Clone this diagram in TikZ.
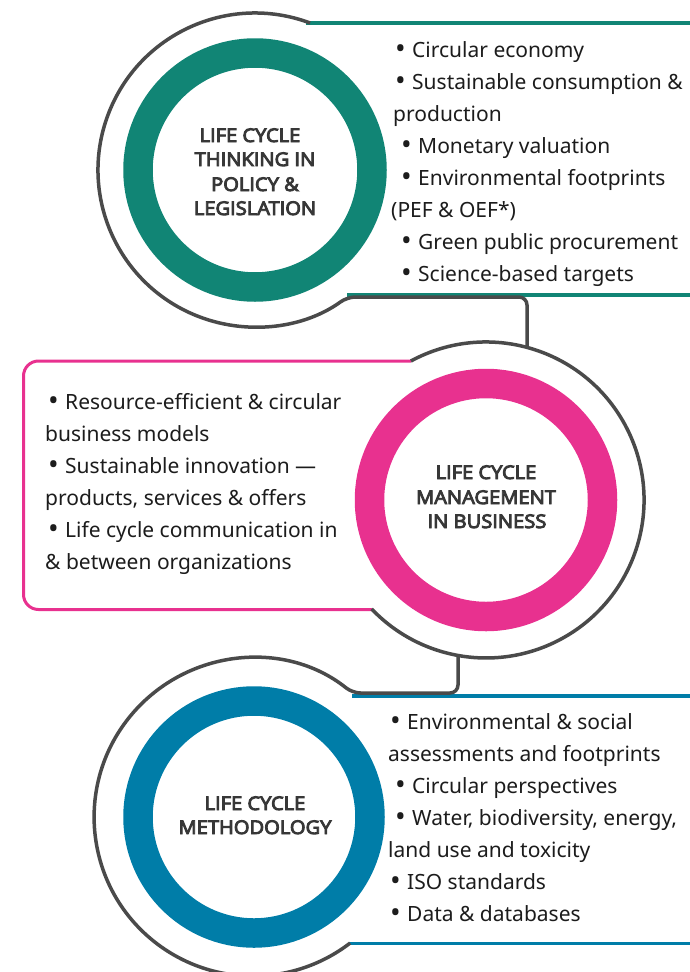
\documentclass[tikz,border=0pt]{standalone}
\usepackage{fontspec}
\setmainfont{Noto Sans}
\newfontfamily\labelfont{Open Sans}[FakeBold=5, FakeStretch=1.07]
\definecolor{tealc}{RGB}{17,133,117}
\definecolor{pinkc}{RGB}{232,49,143}
\definecolor{bluec}{RGB}{0,125,168}
\definecolor{framegray}{RGB}{74,74,74}
\definecolor{textdark}{RGB}{28,28,28}
\definecolor{labelgray}{RGB}{55,55,55}
\newcommand\bitem[1]{\makebox[16pt][l]{\hspace{-1pt}\raisebox{-1.8pt}{\scalebox{1.35}{•}}}#1}
\begin{document}
\begin{tikzpicture}[x=1pt,y=-1pt,
  frame/.style={draw=framegray, line width=3.5pt, rounded corners=8pt},
  rule/.style={line width=3.3pt},
  ring/.style={line width=29.5pt},
  body/.style={font=\fontsize{21}{32}\selectfont, text=textdark, inner sep=0pt, anchor=base west},
  label/.style={font=\labelfont\fontsize{18.8}{24.5}\selectfont, text=labelgray, inner sep=0pt, anchor=base}]
\useasboundingbox (0,0) rectangle (690,972);
\clip (0,0) rectangle (690,972);

% centres
\coordinate (ctop) at (255,170);
\coordinate (cmid) at (486,500);
\coordinate (cbot) at (254,817);

% ---------- top section ----------
\draw[tealc, rule] (306,23) -- (690,23);
\draw[tealc, rule] (347,295) -- (690,295);
\draw[frame] (310.1,23) arc[start angle=-69.45, end angle=-306.0, radius=157]
  -- (527,297) -- (527,347.4);
\draw[tealc, ring] (ctop) circle[radius=117];

% ---------- middle section ----------
\draw[pinkc, line width=3pt, rounded corners=15pt] (411,361) -- (23.5,361) -- (23.5,609.5) -- (372,609.5);
\draw[frame] (410.9,361) arc[start angle=-118.4, end angle=136.4, radius=158];
\draw[pinkc, ring] (cmid) circle[radius=116.5];

% ---------- bottom section ----------
\draw[bluec, rule] (352,696) -- (690,696);
\draw[bluec, rule] (349,943.5) -- (690,943.5);
\draw[frame] (458,655.5) -- (458,693) -- (352.5,693)
  arc[start angle=-51.3, end angle=-307.6, radius=159];
\draw[bluec, ring] (cbot) circle[radius=116];

% ---------- circle labels ----------
\node[label] (t1) at (250,142) {LIFE CYCLE};
\node[label] (t2) at (255,166) {THINKING IN};
\node[label] (t3) at (255,191) {POLICY \&};
\node[label] (t4) at (255,215) {LEGISLATION};

\node[label] (m1) at (486,479) {LIFE CYCLE};
\node[label] (m2) at (486,504) {MANAGEMENT};
\node[label] (m3) at (487,528) {IN BUSINESS};

\node[label] (b1) at (255,810) {LIFE CYCLE};
\node[label] (b2) at (255,834) {METHODOLOGY};

% ---------- top list ----------
\node[body] (ta) at (396,57) {\bitem{Circular economy}};
\node[body] (tb) at (396,89) {\bitem{Sustainable consumption \&}};
\node[body] (tc) at (393,121) {production};
\node[body] (td) at (402,153) {\bitem{Monetary valuation}};
\node[body] (te) at (402,185) {\bitem{Environmental footprints}};
\node[body] (tf) at (391,217) {(PEF \& OEF*)};
\node[body] (tg) at (402,249) {\bitem{Green public procurement}};
\node[body] (th) at (402,281) {\bitem{Science-based targets}};

% ---------- middle list ----------
\node[body] (ma) at (49,409) {\bitem{Resource-efficient \& circular}};
\node[body] (mb) at (45,441) {business models};
\node[body] (mc) at (49,473) {\bitem{Sustainable innovation —}};
\node[body] (md) at (45,505) {products, services \& offers};
\node[body] (me) at (49,537) {\bitem{Life cycle communication in}};
\node[body] (mf) at (45,569) {\& between organizations};

% ---------- bottom list ----------
\node[body] (ba) at (391,729) {\bitem{Environmental \& social}};
\node[body] (bb) at (388,761) {assessments and footprints};
\node[body] (bc) at (396,793) {\bitem{Circular perspectives}};
\node[body] (bd) at (396,825) {\bitem{Water, biodiversity, energy,}};
\node[body] (be) at (388,857) {land use and toxicity};
\node[body] (bf) at (391,889) {\bitem{ISO standards}};
\node[body] (bg) at (391,921) {\bitem{Data \& databases}};
\end{tikzpicture}
\end{document}
